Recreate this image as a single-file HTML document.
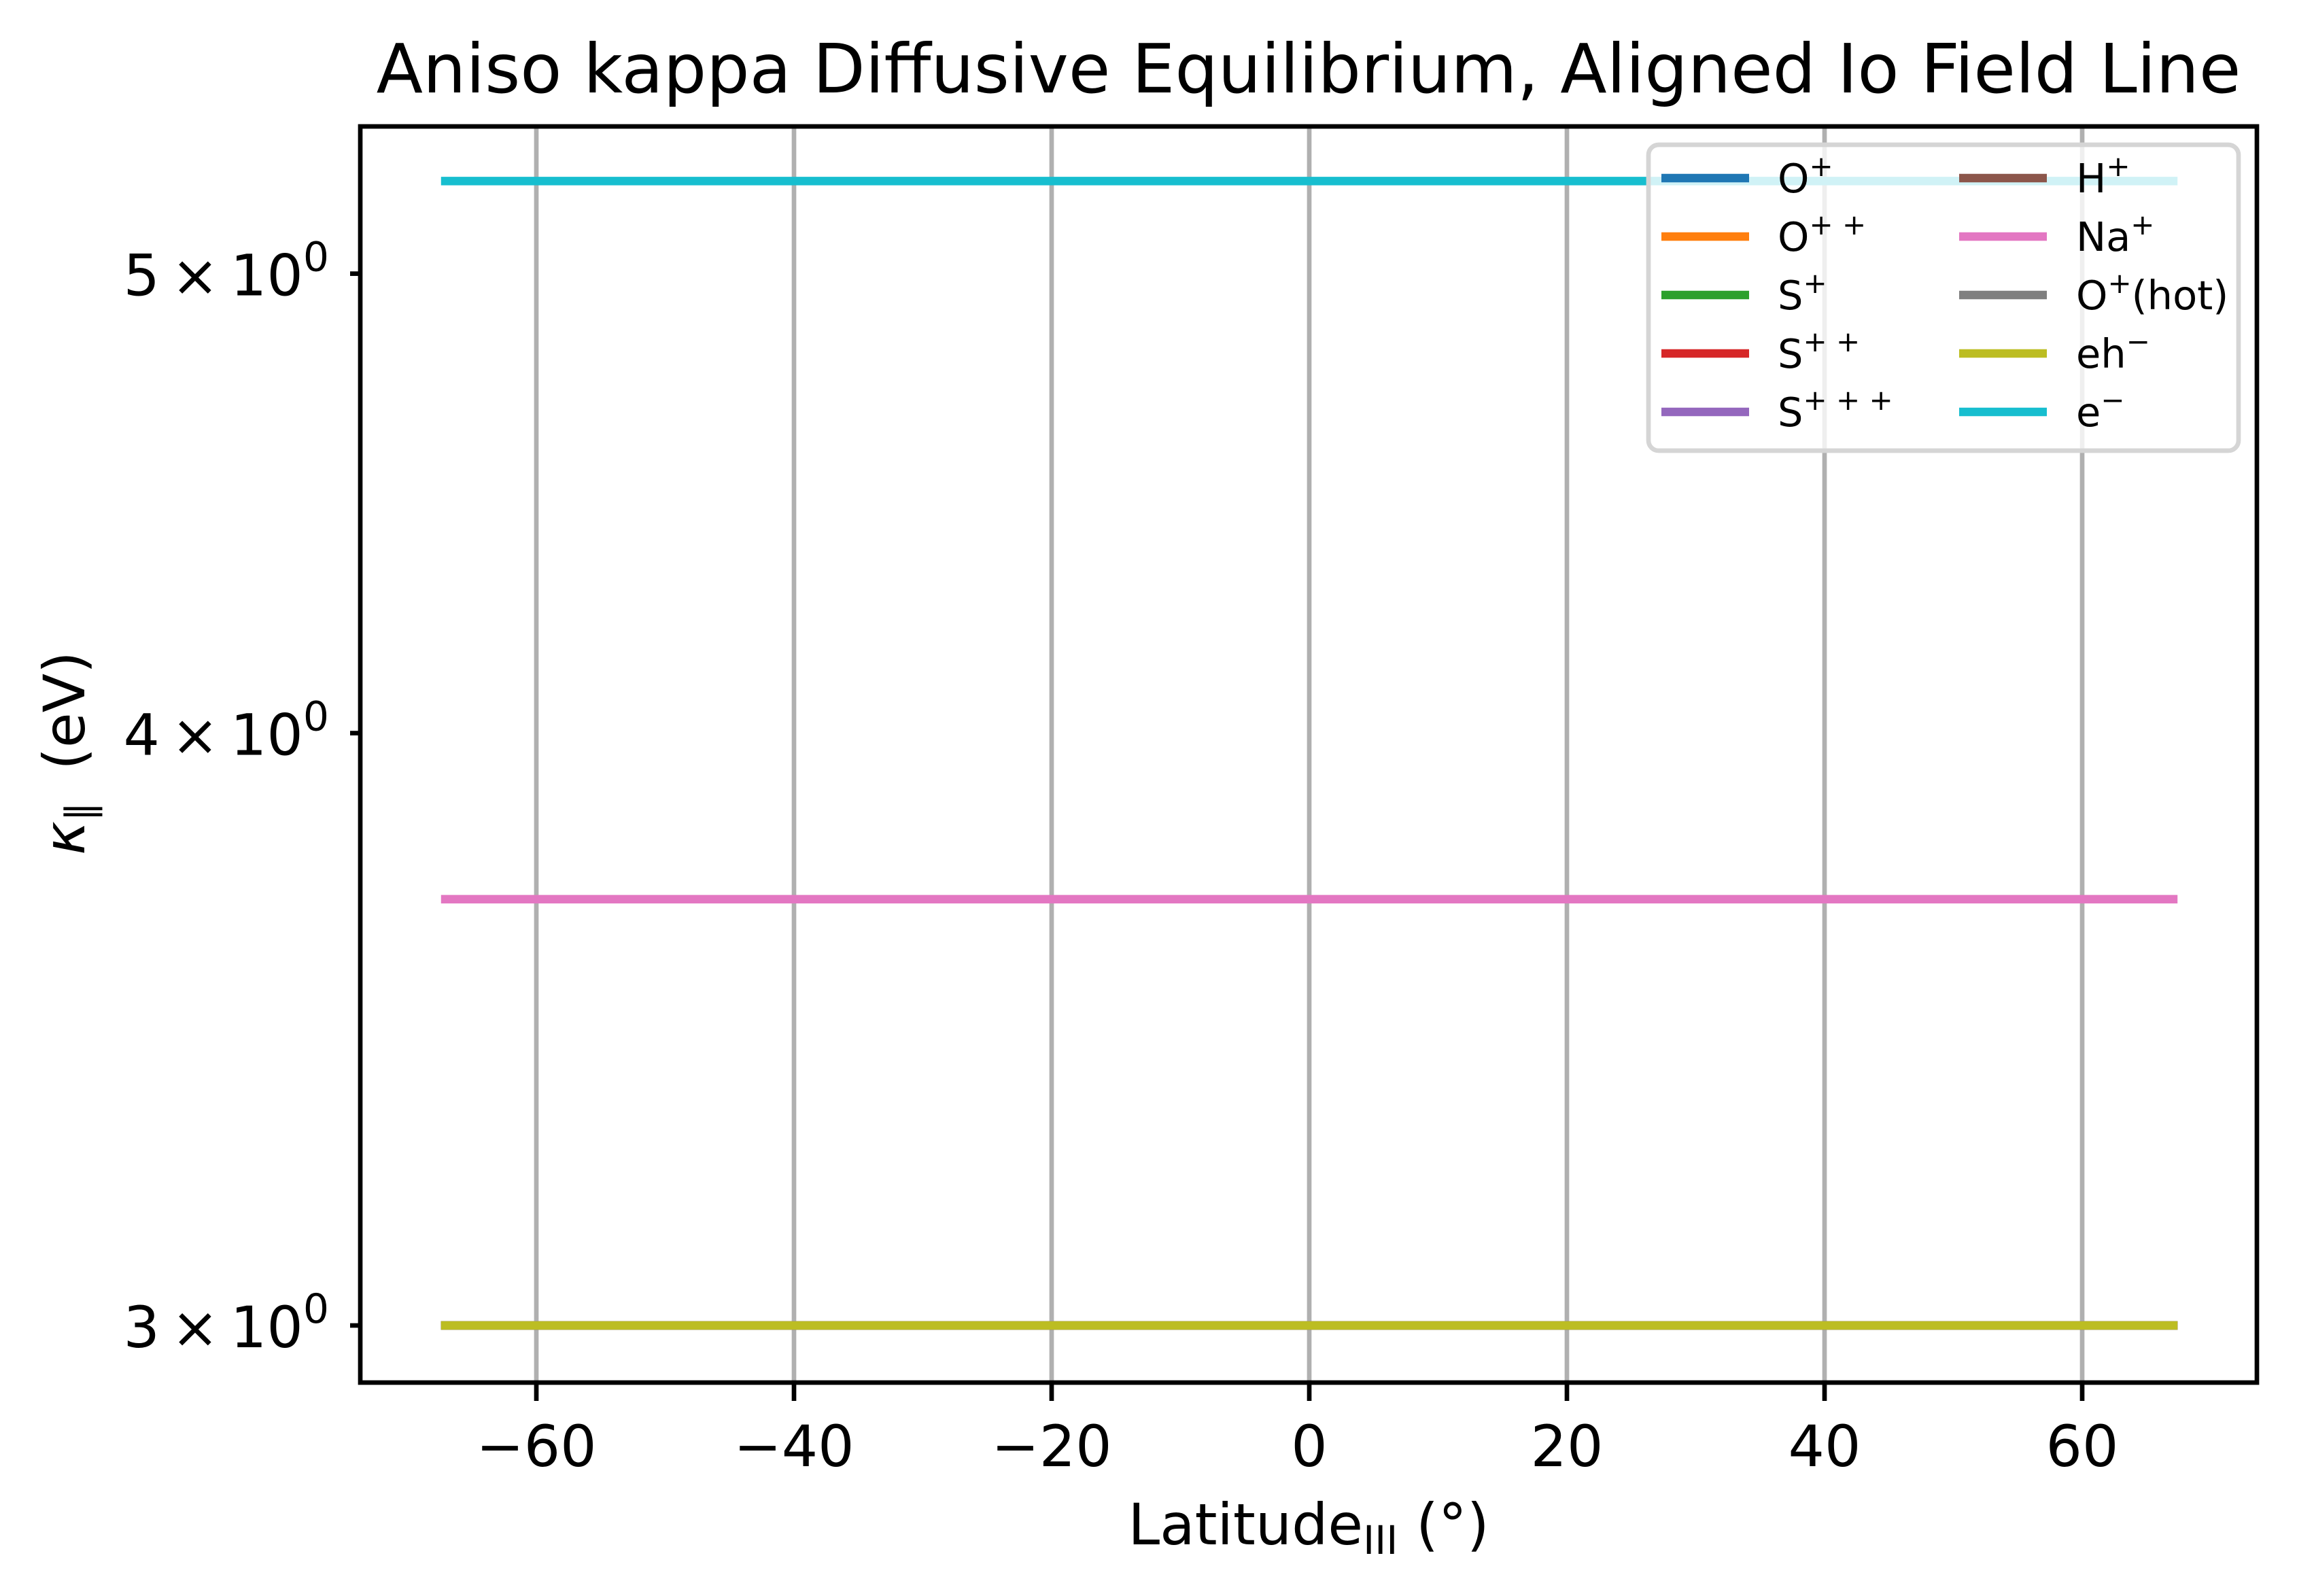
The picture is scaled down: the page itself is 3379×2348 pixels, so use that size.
<!DOCTYPE html>
<html><head><meta charset="utf-8"><style>
html,body{margin:0;padding:0;background:#fff;}
svg{display:block;font-family:"DejaVu Sans","Liberation Sans",sans-serif;}
</style></head><body>
<svg id="chart" width="3379" height="2348" viewBox="0 0 3379 2348" xmlns="http://www.w3.org/2000/svg">
<rect width="3379" height="2348" fill="#fff"/>
<text x="1925" y="136" font-size="100" text-anchor="middle">Aniso kappa Diffusive Equilibrium, Aligned Io Field Line</text>
<g id="grid"></g>
<g id="series"></g>
<g id="axes"></g>
<text x="1925" y="2272" font-size="84" text-anchor="middle">Latitude<tspan font-size="58" dy="14">III</tspan><tspan dy="-14"> (°)</tspan></text>
<text transform="translate(124,1108) rotate(-90)" font-size="84" text-anchor="middle"><tspan font-style="italic">κ</tspan><tspan font-size="58" dy="14">∥</tspan><tspan dy="-14" dx="20">  (eV)</tspan></text>
<g id="legend"></g>
</svg>
<script>
const categories = ["O+","O++","S+","S++","S+++","H+","Na+","O+(hot)","eh-","e-"];
const labels = [["O","+"],["O","+ +"],["S","+"],["S","+ +"],["S","+ + +"],["H","+"],["Na","+"],["O","+","(hot)"],["eh","−"],["e","−"]];
const colors = ["#1f77b4","#ff7f0e","#2ca02c","#d62728","#9467bd","#8c564b","#e377c2","#7f7f7f","#bcbd22","#17becf"];
const kappaValues = [3,3,3,3,3,3,3.69,3,3,5.23];
const latRange = [-67.4,67.4];
const xTicks = [-60,-40,-20,0,20,40,60];
const yTicks = [3,4,5];

const NS="http://www.w3.org/2000/svg";
const L=530,R=3320,T=186,B=2034;
function xs(v){return 1926+(v)*18.95;}
function ys(v){return 1950-(Math.log10(v)-Math.log10(3))*6975;}
function mk(tag,attrs,parent){const e=document.createElementNS(NS,tag);for(const k in attrs)e.setAttribute(k,attrs[k]);parent.appendChild(e);return e;}
const grid=document.getElementById('grid'),axes=document.getElementById('axes'),series=document.getElementById('series'),legend=document.getElementById('legend');
xTicks.forEach(v=>{
  const g=mk('line',{x1:xs(v),x2:xs(v),y1:T,y2:B,stroke:'#b0b0b0','stroke-width':6.7},grid);
  
  
  const t=mk('line',{x1:xs(v),x2:xs(v),y1:B,y2:B+27,stroke:'#000','stroke-width':6.7},axes);
  
  
  const tx=mk('text',{x:xs(v),y:2157,'font-size':84,'text-anchor':'middle'},axes);
  tx.textContent=(v<0?'−':'')+Math.abs(v);
  
  
});
categories.forEach((c,i)=>{
  const ln=mk('line',{x1:xs(latRange[0]),x2:xs(latRange[1]),y1:ys(kappaValues[i]),y2:ys(kappaValues[i]),stroke:colors[i],'stroke-width':12.5},series);
  
  
});
yTicks.forEach(v=>{
  const t=mk('line',{x1:L-15,x2:L,y1:ys(v),y2:ys(v),stroke:'#000','stroke-width':6.7},axes);
  
  
  const tx=mk('text',{x:484,y:ys(v)+32,'font-size':84,'text-anchor':'end'},axes);
  tx.innerHTML=v+'\u2009×\u200910<tspan font-size="60" dy="-36">0</tspan>';
  
  
});
const fr=mk('rect',{x:L,y:T,width:R-L,height:B-T,fill:'none',stroke:'#000','stroke-width':6.7},axes);


const box=mk('rect',{x:2425,y:213,width:868,height:450,rx:15,fill:'#fff','fill-opacity':0.8,stroke:'#d5d5d5','stroke-width':6.7},legend);


categories.forEach((c,i)=>{
  const col=Math.floor(i/5),row=i%5;
  const hx=col?2882:2444,tx0=col?3054:2615,y=262+row*86;
  const h=mk('line',{x1:hx,x2:hx+129,y1:y,y2:y,stroke:colors[i],'stroke-width':12.5},legend);
  
  
  const t=mk('text',{x:tx0,y:y+21,'font-size':59},legend);
  const lb=labels[i];
  t.innerHTML=lb[0]+'<tspan font-size="42" dy="-24">'+lb[1]+'</tspan>'+(lb[2]?'<tspan dy="24">'+lb[2]+'</tspan>':'');
  
  
});
</script>
</body></html>
